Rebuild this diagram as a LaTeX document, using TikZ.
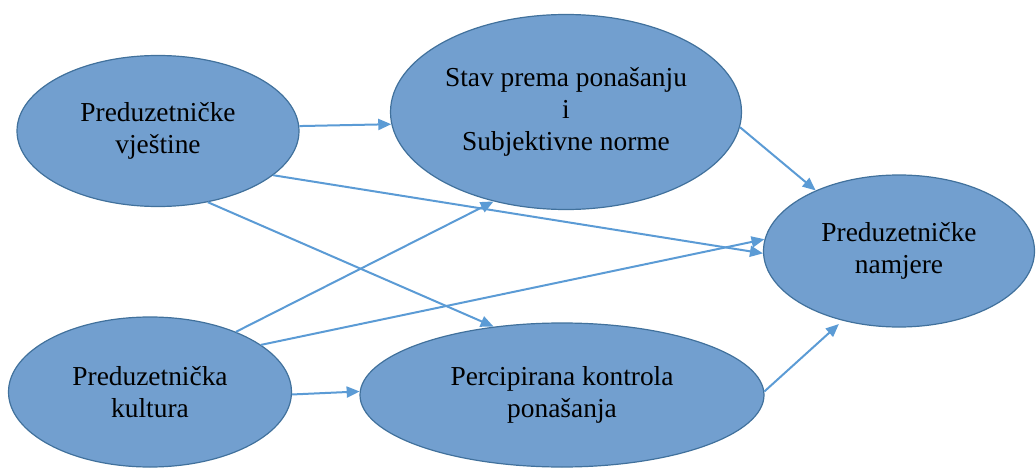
\documentclass[tikz,border=0pt]{standalone}
\usepackage{fontspec}
\setmainfont{Liberation Serif}
\usetikzlibrary{shapes.geometric,arrows.meta}
\definecolor{ovalfill}{RGB}{114,159,207}
\definecolor{ovaldraw}{RGB}{65,113,156}
\definecolor{arrowblue}{RGB}{91,155,213}

\begin{document}
\begin{tikzpicture}[x=1pt, y=-1pt,
    oval/.style={ellipse, draw=ovaldraw, line width=1.2pt, fill=ovalfill, inner sep=0pt, align=center, font=\fontsize{27.4}{32}\selectfont},
    link/.style={draw=arrowblue, line width=2pt, -{Triangle[length=13pt,width=11pt]}}]
\useasboundingbox (0,0) rectangle (1036,468);
\node[oval, minimum width=282pt, minimum height=151pt] (vjestine) at (158,131) {Preduzetničke\\vještine};
\node[oval, minimum width=351pt, minimum height=195pt] (stav) at (566,112) {Stav prema ponašanju\\i\\Subjektivne norme};
\node[oval, minimum width=271pt, minimum height=152pt] (namjere) at (899,251) {Preduzetničke\\namjere};
\node[oval, minimum width=283pt, minimum height=150pt] (kultura) at (150,392) {Preduzetnička\\kultura};
\node[oval, minimum width=404pt, minimum height=144pt] (kontrola) at (562,395) {Percipirana kontrola\\ponašanja};
\draw[link] (vjestine.2) -- (stav.184);
\draw[link] (vjestine.-21.5) -- (namjere.181);
\draw[link] (vjestine.-55.6) -- (kontrola.135.8);
\draw[link] (kultura.35.8) -- (stav.231);
\draw[link] (kultura.23.6) -- (namjere.175.8);
\draw[link] (kultura.-1.2) -- (kontrola.179.4);
\draw[link] (stav.-5.2) -- (namjere.144);
\draw[link, shorten >=5pt] (kontrola.1.4) -- (namjere.231.4);
\end{tikzpicture}
\end{document}
